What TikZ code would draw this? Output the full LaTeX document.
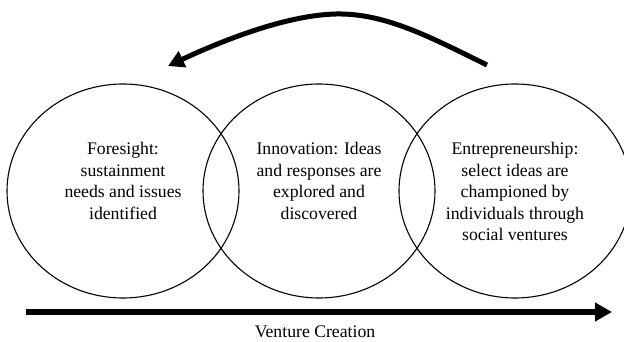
\documentclass[tikz,border=0pt]{standalone}
\usepackage{fontspec}
\setmainfont{Liberation Serif}
\usetikzlibrary{arrows.meta,positioning,shapes}

\begin{document}
\begin{tikzpicture}
	[x=1pt, y=1pt, node distance = 196pt, on grid,
	 stage/.style = {ellipse, draw, line width=1.1pt, minimum width=232pt, minimum height=214pt, inner sep=0pt},
	 txt/.style = {align=center, inner sep=0pt, anchor=north, font=\fontsize{17.7}{21.5}\selectfont},
	 flow/.style = {line width=5.5pt, -{Triangle[length=17pt,width=18pt]}}]
\useasboundingbox (0,0) rectangle (624,342);
\node[stage](c_1) at (123,151) {};
\node[stage](c_2)[right = of c_1] {};
\node[stage](c_3)[right = of c_2] {};

\node[txt](t_1) at ([yshift=-59pt]c_1.north) {Foresight:\\sustainment\\needs and issues\\identified};
\node[txt](t_2) at ([yshift=-59pt]c_2.north) {Innovation: Ideas\\and responses are\\explored and\\discovered};
\node[txt](t_3) at ([yshift=-59pt]c_3.north) {Entrepreneurship:\\select ideas are\\championed by\\individuals through\\social ventures};

% feedback arrow on top
\coordinate (back_s) at (487,277);
\coordinate (back_m) at (336,328);
\coordinate (back_e) at (168,276);
\draw[line width=5pt, -{Triangle[length=16pt,width=17pt]}]
	(back_s) .. controls (430,305) and (385,329) .. (back_m)
	         .. controls (290,327) and (230,305) .. (back_e);

% venture creation axis
\coordinate (axis_s) at (26,30);
\coordinate (axis_e) at (612,30);
\draw[flow] (axis_s) -- (axis_e);
\node[font=\fontsize{17.7}{21.5}\selectfont, anchor=base](vc) at (315,4) {Venture Creation};
\end{tikzpicture}
\end{document}
